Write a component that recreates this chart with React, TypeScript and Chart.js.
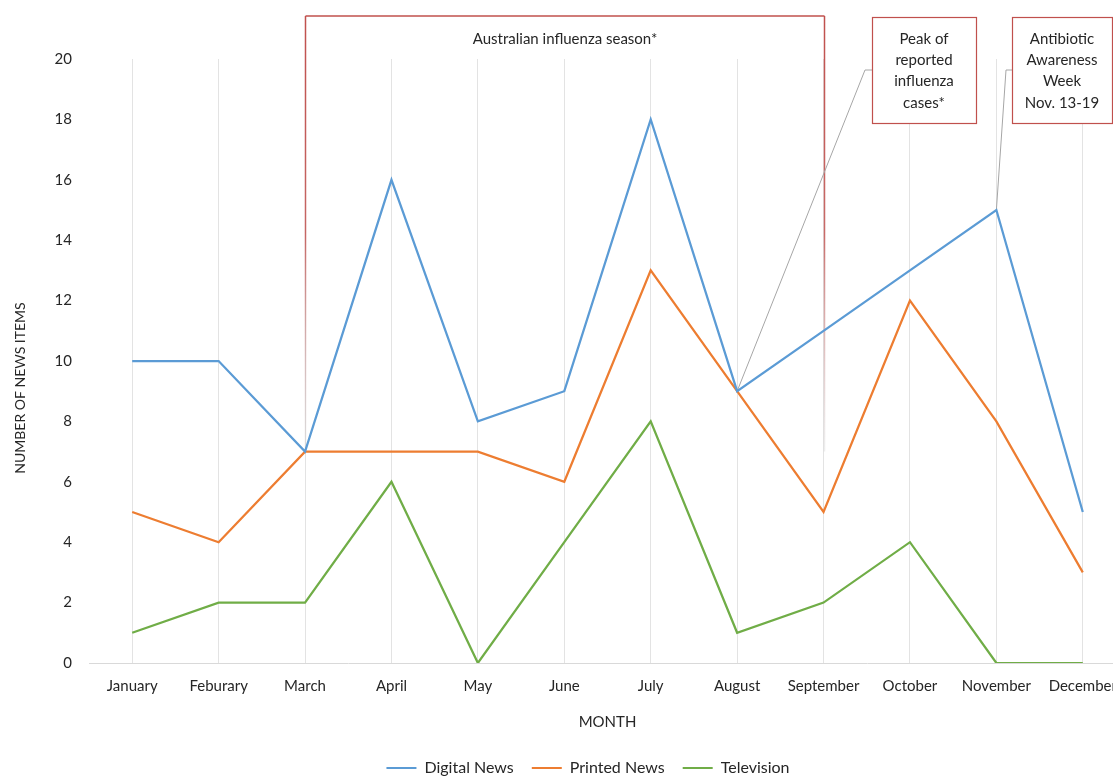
import React, { useEffect, useRef } from "react";
import { Chart, registerables } from "chart.js";

Chart.register(...registerables);

const months = ["January", "Feburary", "March", "April", "May", "June", "July", "August", "September", "October", "November", "December"];
const digitalNews = [10, 10, 7, 16, 8, 9, 18, 9, 11, 13, 15, 5];
const printedNews = [5, 4, 7, 7, 7, 6, 13, 9, 5, 12, 8, 3];
const television = [1, 2, 2, 6, 0, 4, 8, 1, 2, 4, 0, 0];

const yMin = 0;
const yMax = 20;
const yStep = 2;

const seasonLabel = "Australian influenza season*";
const seasonStartIndex = 2; // March
const seasonEndIndex = 8; // September
const peakLines = ["Peak of", "reported", "influenza", "cases*"];
const peakIndex = 7; // August
const awarenessLines = ["Antibiotic", "Awareness", "Week", "Nov. 13-19"];
const awarenessIndex = 10; // November

const FONT = "Lato, 'Open Sans', sans-serif";
const TEXT = "#262626";
const RED = "#c0504d";

const annotationPlugin = {
  id: "annotations",
  beforeDatasetsDraw(chart: any) {
    const ctx = chart.ctx;
    const xs = chart.scales.x;
    const ys = chart.scales.y;
    const top = 16;
    ctx.save();
    [seasonStartIndex, seasonEndIndex].forEach((i) => {
      const px = Math.round(xs.getPixelForValue(i)) + 0.5;
      const bottom = ys.getPixelForValue(7);
      const g = ctx.createLinearGradient(0, top, 0, bottom);
      g.addColorStop(0, "rgba(192,80,77,1)");
      g.addColorStop(0.5, "rgba(192,80,77,0.85)");
      g.addColorStop(0.8, "rgba(200,150,150,0.5)");
      g.addColorStop(1, "rgba(200,200,200,0.3)");
      ctx.strokeStyle = g;
      ctx.lineWidth = 1.5;
      ctx.beginPath();
      ctx.moveTo(px, top);
      ctx.lineTo(px, bottom);
      ctx.stroke();
    });
    // leader lines
    ctx.strokeStyle = "#a6a6a6";
    ctx.lineWidth = 1;
    ctx.beginPath();
    ctx.moveTo(872, 70);
    ctx.lineTo(865, 70);
    ctx.lineTo(xs.getPixelForValue(peakIndex), ys.getPixelForValue(digitalNews[peakIndex]));
    ctx.stroke();
    ctx.beginPath();
    ctx.moveTo(1012, 70);
    ctx.lineTo(1006, 70);
    ctx.lineTo(xs.getPixelForValue(awarenessIndex), ys.getPixelForValue(digitalNews[awarenessIndex]));
    ctx.stroke();
    ctx.restore();
  },
  afterDraw(chart: any) {
    const ctx = chart.ctx;
    const xs = chart.scales.x;
    const top = 16;
    ctx.save();
    const x1 = Math.round(xs.getPixelForValue(seasonStartIndex)) + 0.5;
    const x2 = Math.round(xs.getPixelForValue(seasonEndIndex)) + 0.5;
    ctx.strokeStyle = RED;
    ctx.lineWidth = 1.5;
    ctx.beginPath();
    ctx.moveTo(x1, top);
    ctx.lineTo(x2, top);
    ctx.stroke();
    ctx.fillStyle = TEXT;
    ctx.font = `15px ${FONT}`;
    ctx.textAlign = "center";
    ctx.textBaseline = "middle";
    ctx.fillText(seasonLabel, (x1 + x2) / 2, 39);

    const drawBox = (bx: number, bw: number, lines: string[]) => {
      ctx.fillStyle = "#ffffff";
      ctx.fillRect(bx, 17, bw, 106);
      ctx.strokeStyle = RED;
      ctx.lineWidth = 1.2;
      ctx.strokeRect(bx + 0.5, 17.5, bw, 106);
      ctx.fillStyle = TEXT;
      lines.forEach((t, k) => ctx.fillText(t, bx + bw / 2, 39 + k * 21.3));
    };
    drawBox(872, 104, peakLines);
    drawBox(1012, 100, awarenessLines);

    // y axis title
    ctx.translate(20, 388);
    ctx.rotate(-Math.PI / 2);
    ctx.fillStyle = TEXT;
    ctx.font = `14px ${FONT}`;
    ctx.fillText("NUMBER OF NEWS ITEMS", 0, 0);
    ctx.restore();
  },
};

export default function App() {
  const ref = useRef<HTMLCanvasElement | null>(null);
  useEffect(() => {
    if (!ref.current) return;
    const chart = new Chart(ref.current, {
      type: "line",
      data: {
        labels: months,
        datasets: [
          { label: "Digital News", data: digitalNews, borderColor: "#5b9bd5", backgroundColor: "#5b9bd5" },
          { label: "Printed News", data: printedNews, borderColor: "#ed7d31", backgroundColor: "#ed7d31" },
          { label: "Television", data: television, borderColor: "#70ad47", backgroundColor: "#70ad47" },
        ],
      },
      options: {
        responsive: false,
        animation: false,
        elements: {
          line: { borderWidth: 2.25, tension: 0 },
          point: { radius: 0, hoverRadius: 0 },
        },
        layout: { padding: { top: 59, right: 0, left: 0, bottom: 0 } },
        scales: {
          x: {
            offset: true,
            grid: { color: "#e3e3e3", drawTicks: false, offset: false },
            border: { color: "#d9d9d9" },
            ticks: { color: TEXT, font: { family: FONT, size: 15 }, padding: 14, maxRotation: 0, autoSkip: false },
            title: { display: true, text: "MONTH", color: TEXT, font: { family: FONT, size: 15 }, padding: { top: 0, bottom: 11 } },
            afterFit: (s: any) => { s.height = 79; },
          },
          y: {
            min: yMin,
            max: yMax,
            grid: { display: false, drawTicks: false },
            border: { display: false },
            ticks: { stepSize: yStep, color: TEXT, font: { family: FONT, size: 15 }, padding: 17 },
            afterFit: (s: any) => { s.width = 89; },
          },
          yRight: {
            position: "right",
            min: yMin,
            max: yMax,
            grid: { display: false, drawTicks: false },
            border: { display: false },
            ticks: { display: false },
            afterFit: (s: any) => { s.width = 50; },
          },
        },
        plugins: {
          tooltip: { enabled: false },
          legend: {
            position: "bottom",
            labels: {
              color: TEXT,
              font: { family: FONT, size: 16 },
              boxWidth: 30,
              boxHeight: 2,
              padding: 18,
              generateLabels: (c: any) =>
                Chart.defaults.plugins.legend.labels.generateLabels(c).map((l: any) => ({
                  ...l,
                  fillStyle: l.strokeStyle,
                  lineWidth: 0,
                })),
            },
          },
        },
      },
      plugins: [annotationPlugin],
    });
    return () => chart.destroy();
  }, []);
  return (
    <div style={{ position: "absolute", left: 0, top: 0, width: 1113, height: 776, overflow: "hidden", background: "#fff" }}>
      <canvas ref={ref} width={1176} height={786} style={{ width: 1176, height: 786, display: "block" }} />
    </div>
  );
}
